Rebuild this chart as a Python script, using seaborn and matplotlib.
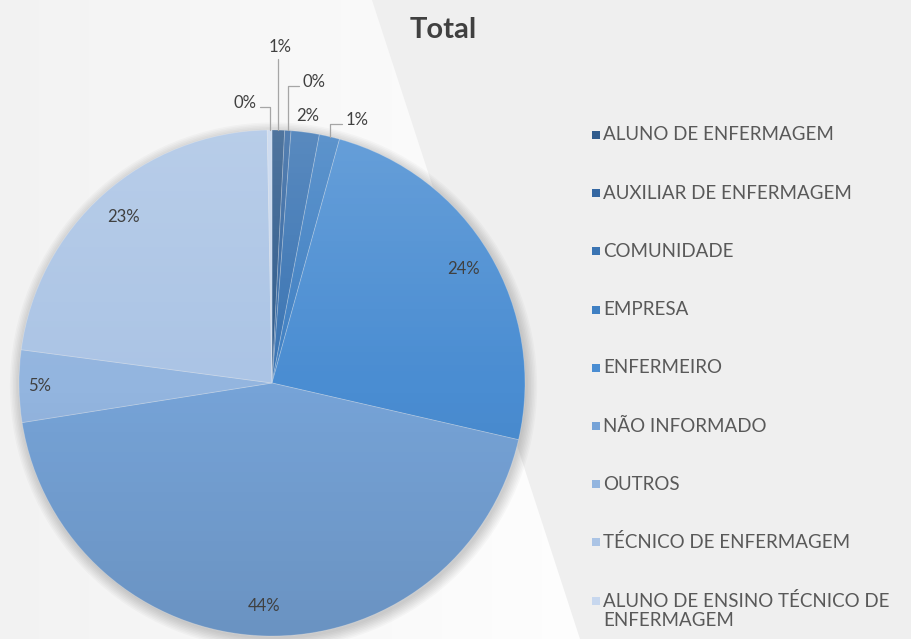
import numpy as np
import matplotlib
matplotlib.use("Agg")
import matplotlib.pyplot as plt
from matplotlib.patches import Circle, Polygon, Rectangle
import seaborn as sns

# --- data ---
categories = ["ALUNO DE ENFERMAGEM", "AUXILIAR DE ENFERMAGEM", "COMUNIDADE",
              "EMPRESA", "ENFERMEIRO", "NÃO INFORMADO", "OUTROS",
              "TÉCNICO DE ENFERMAGEM", "ALUNO DE ENSINO TÉCNICO DE\nENFERMAGEM"]
shares = [0.8, 0.4, 1.8, 1.3, 24.3, 43.9, 4.6, 22.6, 0.3]
colors = ["#2f5b8c", "#3467a2", "#3a74b3", "#3f80c3", "#4a8dd2",
          "#76a3d7", "#93b5df", "#abc4e5", "#c7d7ee"]
title = "Total"

# small slices get their labels outside with leader lines (data coords, side of leader)
outside = {0: (0.032, 1.33, "below"), 1: (0.12, 1.19, "left"), 2: (0.14, 1.055, None),
           3: (0.29, 1.04, "left"), 8: (-0.062, 1.105, "right")}

sns.set_theme(style="white")
plt.rcParams["font.family"] = ["Lato", "DejaVu Sans"]

W, H = 912, 639
fig = plt.figure(figsize=(W / 100, H / 100), dpi=100)
fig.patch.set_facecolor("#efefef")

# --- background: lighter diagonal panel on the left ---
bg = fig.add_axes([0, 0, 1, 1], zorder=-5)
bg.axis("off")
grad = np.linspace(0.95, 0.995, 256)[None, :]
grad = np.dstack([grad, grad, grad])
im = bg.imshow(grad, extent=[0, 580, H, 0], aspect="auto")
panel = Polygon([(0, 0), (372, 0), (580, H), (0, H)], closed=True,
                transform=bg.transData, facecolor="none", edgecolor="none")
bg.add_patch(panel)
im.set_clip_path(panel)
bg.set_xlim(0, W)
bg.set_ylim(H, 0)

# --- pie axes: centre at (272, 383) px, radius 253 px ---
cx, cy, r = 272, 383, 253
half = 1.5
ax = fig.add_axes([(cx - r * half) / W, (H - cy - r * half) / H,
                   2 * r * half / W, 2 * r * half / H])
ax.axis("off")

# soft shadow
for i in range(8):
    ax.add_patch(Circle((0.006, -0.012), 1 + 0.006 * i, color="black",
                        alpha=0.025, lw=0, zorder=0))

wedges, _ = ax.pie(shares, colors=colors, startangle=90, counterclock=False,
                   radius=1, wedgeprops=dict(edgecolor=(1, 1, 1, 0.25), linewidth=0.6))
for w in wedges:
    w.set_zorder(2)

# office-like vertical shading over the pie
t = np.linspace(0, 1, 256)[:, None]
shade = np.zeros((256, 1, 4))
top = t < 0.5
shade[..., 0:3] = np.where(top, 1.0, 0.0)[..., None]
shade[..., 3] = np.where(top, 0.16 * (0.5 - t) / 0.5, 0.10 * (t - 0.5) / 0.5)
sh = ax.imshow(shade, extent=[-1, 1, -1, 1], aspect="auto", zorder=3)
disc = Circle((0, 0), 1, transform=ax.transData)
sh.set_clip_path(disc)

ax.set_xlim(-half, half)
ax.set_ylim(-half, half)

lbl_color = "#404040"
fs = 12
for i, (w, v) in enumerate(zip(wedges, shares)):
    ang = np.deg2rad((w.theta1 + w.theta2) / 2)
    txt = f"{v:.0f}%"
    if i in outside:
        tx, ty, side = outside[i]
        ex, ey = np.cos(ang), np.sin(ang)
        if side == "below":
            ax.plot([ex, ex], [ey, ty - 0.05], color="#a6a6a6", lw=0.9, zorder=4)
            ax.text(tx, ty, txt, ha="center", va="center", fontsize=fs, color=lbl_color)
        elif side == "left":
            ax.plot([ex, ex, tx - 0.015], [ey, ty - 0.015, ty - 0.015],
                    color="#a6a6a6", lw=0.9, zorder=4)
            ax.text(tx, ty, txt, ha="left", va="center", fontsize=fs, color=lbl_color)
        elif side == "right":
            ax.plot([ex, ex, tx + 0.015], [ey, ty - 0.015, ty - 0.015],
                    color="#a6a6a6", lw=0.9, zorder=4)
            ax.text(tx, ty, txt, ha="right", va="center", fontsize=fs, color=lbl_color)
        else:
            ax.text(tx, ty, txt, ha="center", va="center", fontsize=fs, color=lbl_color)
    else:
        d = 0.92 if v < 10 else 0.88
        ax.text(d * np.cos(ang), d * np.sin(ang), txt, ha="center", va="center",
                fontsize=fs, color=lbl_color, zorder=5)

# --- title ---
fig.text(443 / W, 1 - 30 / H, title, ha="center", va="center", fontsize=21,
         fontweight="bold", color="#404040")

# --- legend ---
y0, step = 135, 58.2
for i, (name, c) in enumerate(zip(categories, colors)):
    yc = y0 + i * step
    fig.patches.append(Rectangle((592 / W, 1 - (yc + 4) / H), 8 / W, 8 / H,
                                 transform=fig.transFigure, facecolor=c,
                                 edgecolor="none"))
    for k, line in enumerate(name.split("\n")):
        fig.text(603 / W, 1 - (yc + k * 20) / H, line, ha="left", va="center",
                 fontsize=13.5, color="#595959")

fig.savefig("out.png", dpi=100, facecolor=fig.get_facecolor())
